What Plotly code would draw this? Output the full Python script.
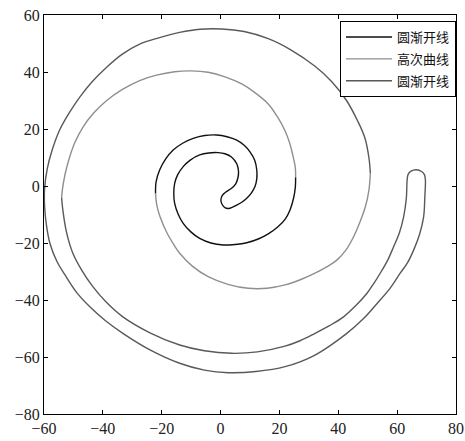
import plotly.graph_objects as go

# Inner wrap section: circle involute (black), hook at the centre
inv_in_x = [-22.1, -21.9, -20.7, -18.7, -16.1, -12.9, -9.3, -5.4, -1.4, 2.2, 5.5, 8.0,
            10.0, 11.6, 12.3, 12.3, 11.7, 10.5, 8.9, 7.2, 5.5, 3.2, 1.6, 0.5, 0.1,
            0.6, 1.8, 3.6, 5.1, 5.9, 6.1, 5.5, 3.7, 1.5, -0.8, -4.0, -7.1, -10.3,
            -12.7, -14.6, -15.6, -15.9, -15.6, -14.4, -12.7, -10.1, -7.1, -3.3, 0.9,
            5.0, 8.9, 12.8, 16.2, 19.5, 21.9, 23.6, 24.8, 25.4, 25.5]
inv_in_y = [-2.6, 1.5, 5.6, 9.4, 12.6, 15.0, 16.7, 17.7, 17.9, 17.3, 16.1, 14.3,
            12.0, 9.0, 5.6, 2.5, -0.2, -2.4, -4.3, -5.7, -6.7, -7.8, -7.7, -6.4, -4.9,
            -3.3, -2.1, -0.9, 0.7, 2.9, 5.2, 7.8, 10.2, 11.3, 11.7, 11.6, 10.9, 9.1,
            6.8, 3.9, 0.9, -2.6, -6.1, -9.9, -13.1, -16.1, -18.4, -20.0, -20.7,
            -20.5, -19.9, -18.6, -16.8, -14.3, -11.7, -8.4, -4.3, -0.5, 3.1]

# Middle section: higher-order curve (light gray), two flanks
hoc_x = [-22.1, -21.7, -20.5, -18.2, -16.0, -13.9, -9.5, -4.2, 2.5, 9.4, 15.8,
         21.9, 27.3, 32.1, 36.2, 39.5, 42.7, 45.2, 47.3, 49.2, 50.4, 50.9,
         None,
         25.5, 25.4, 24.7, 23.5, 21.9, 19.3, 16.2, 11.9, 7.2, 1.5, -4.2, -10.0,
         -15.6, -21.8, -27.5, -33.5, -38.8, -43.2, -46.8, -49.4, -51.3, -52.8,
         -53.8, -54.0]
hoc_y = [-2.6, -6.5, -11.0, -16.5, -20.4, -23.6, -28.2, -31.8, -34.5, -35.9, -35.9,
         -34.7, -32.8, -30.6, -28.3, -26.0, -22.3, -17.8, -12.8, -7.3, -1.5, 4.5,
         None,
         3.1, 6.5, 10.1, 15.0, 19.4, 24.3, 28.8, 32.6, 35.8, 38.3, 39.9, 40.4,
         40.1, 38.9, 37.0, 33.8, 29.9, 25.5, 20.6, 15.5, 10.1, 4.3,
         -1.6, -4.2]

# Outer section: circle involute (dark gray), rounded tip at the end
inv_out_x = [50.9, 50.4, 49.0, 46.5, 42.8, 37.8, 32.1, 24.0, 16.2, 8.0, 0.3, -7.0,
             -13.9, -21.0, -27.5, -33.5, -38.8, -43.8, -47.9, -51.7, -54.8, -57.2,
             -58.9, -59.8, -59.8, -59.2, -58.0, -55.6, -52.5, -48.8, -44.5, -39.2,
             -33.2, -24.0, -13.9, -5.5, 2.6, 12.0, 21.9, 32.1, 42.9, 48.5, 53.2,
             57.5, 61.1, 63.5, 65.6, 67.6, 69.0, 69.4, 69.6,
             69.3, 68.3, 66.5, 64.7, 63.7,
             63.4, 63.1, 62.2, 60.8, 58.8, 56.8, 54.6, 52.2, 49.7, 45.9, 41.8, 37.0,
             32.1, 27.0, 21.9, 12.5, 3.7, -5.5, -13.9, -24.0, -33.2, -38.8, -43.4,
             -47.2, -50.2, -52.4, -53.6, -54.0]
inv_out_y = [4.5, 10.0, 17.0, 23.0, 30.0, 36.6, 42.0, 47.7, 51.7, 54.2, 55.1, 55.0,
             53.9, 52.0, 49.8, 46.2, 41.6, 36.4, 31.1, 25.2, 19.4, 12.7,
             6.0, -1.0, -7.0, -13.5, -20.1, -26.5, -31.8, -37.5, -42.3, -47.2,
             -51.7, -57.5, -62.2, -64.6, -65.5, -65.1, -63.4, -59.3, -51.7, -46.6, -41.2,
             -36.0, -30.5, -27.0, -22.5, -17.0, -10.8, -4.0, 2.1,
             3.9, 5.1, 5.7, 5.2, 4.0,
             2.1, -4.5, -10.8, -16.3, -21.3, -26.0, -30.0, -34.0, -37.7, -42.0, -45.9, -49.0,
             -51.7, -54.3, -56.2, -58.2, -58.7, -57.8, -55.8, -51.5, -45.9, -40.8, -35.3,
             -29.5, -23.6, -16.0, -8.4, -4.2]

names = ["圆渐开线", "高次曲线", "圆渐开线"]
colors = ["#111111", "#8f8f8f", "#595959"]

fig = go.Figure()
for i, (xs, ys, name, color) in enumerate([(inv_in_x, inv_in_y, names[0], colors[0]),
                                           (hoc_x, hoc_y, names[1], colors[1]),
                                           (inv_out_x, inv_out_y, names[2], colors[2])]):
    fig.add_trace(go.Scatter(
        x=xs, y=ys, mode="lines", name=name, legendgroup=f"g{i}",
        line=dict(color=color, width=1.4, shape="spline", smoothing=1.0),
    ))

axis_style = dict(
    showline=True, mirror="ticks", linecolor="black", linewidth=1,
    ticks="inside", ticklen=4, tickcolor="black", tickwidth=1,
    showgrid=False, zeroline=False, dtick=20, automargin=False,
    tickfont=dict(family="Liberation Serif, Times New Roman, serif", size=16,
                  color="#222222"),
)

fig.update_layout(
    width=465, height=441,
    margin=dict(l=44, r=9, t=15, b=27),
    plot_bgcolor="white", paper_bgcolor="white",
    xaxis=dict(range=[-60, 80], **axis_style),
    yaxis=dict(range=[-80, 60], **axis_style),
    legend=dict(
        x=1, xanchor="right", y=0.985, yanchor="top",
        bgcolor="white", bordercolor="black", borderwidth=1,
        traceorder="grouped", tracegroupgap=2, itemwidth=46,
        font=dict(family="Noto Sans CJK SC", size=13, color="#111111"),
    ),
    showlegend=True,
)

fig.write_html("out.html")
